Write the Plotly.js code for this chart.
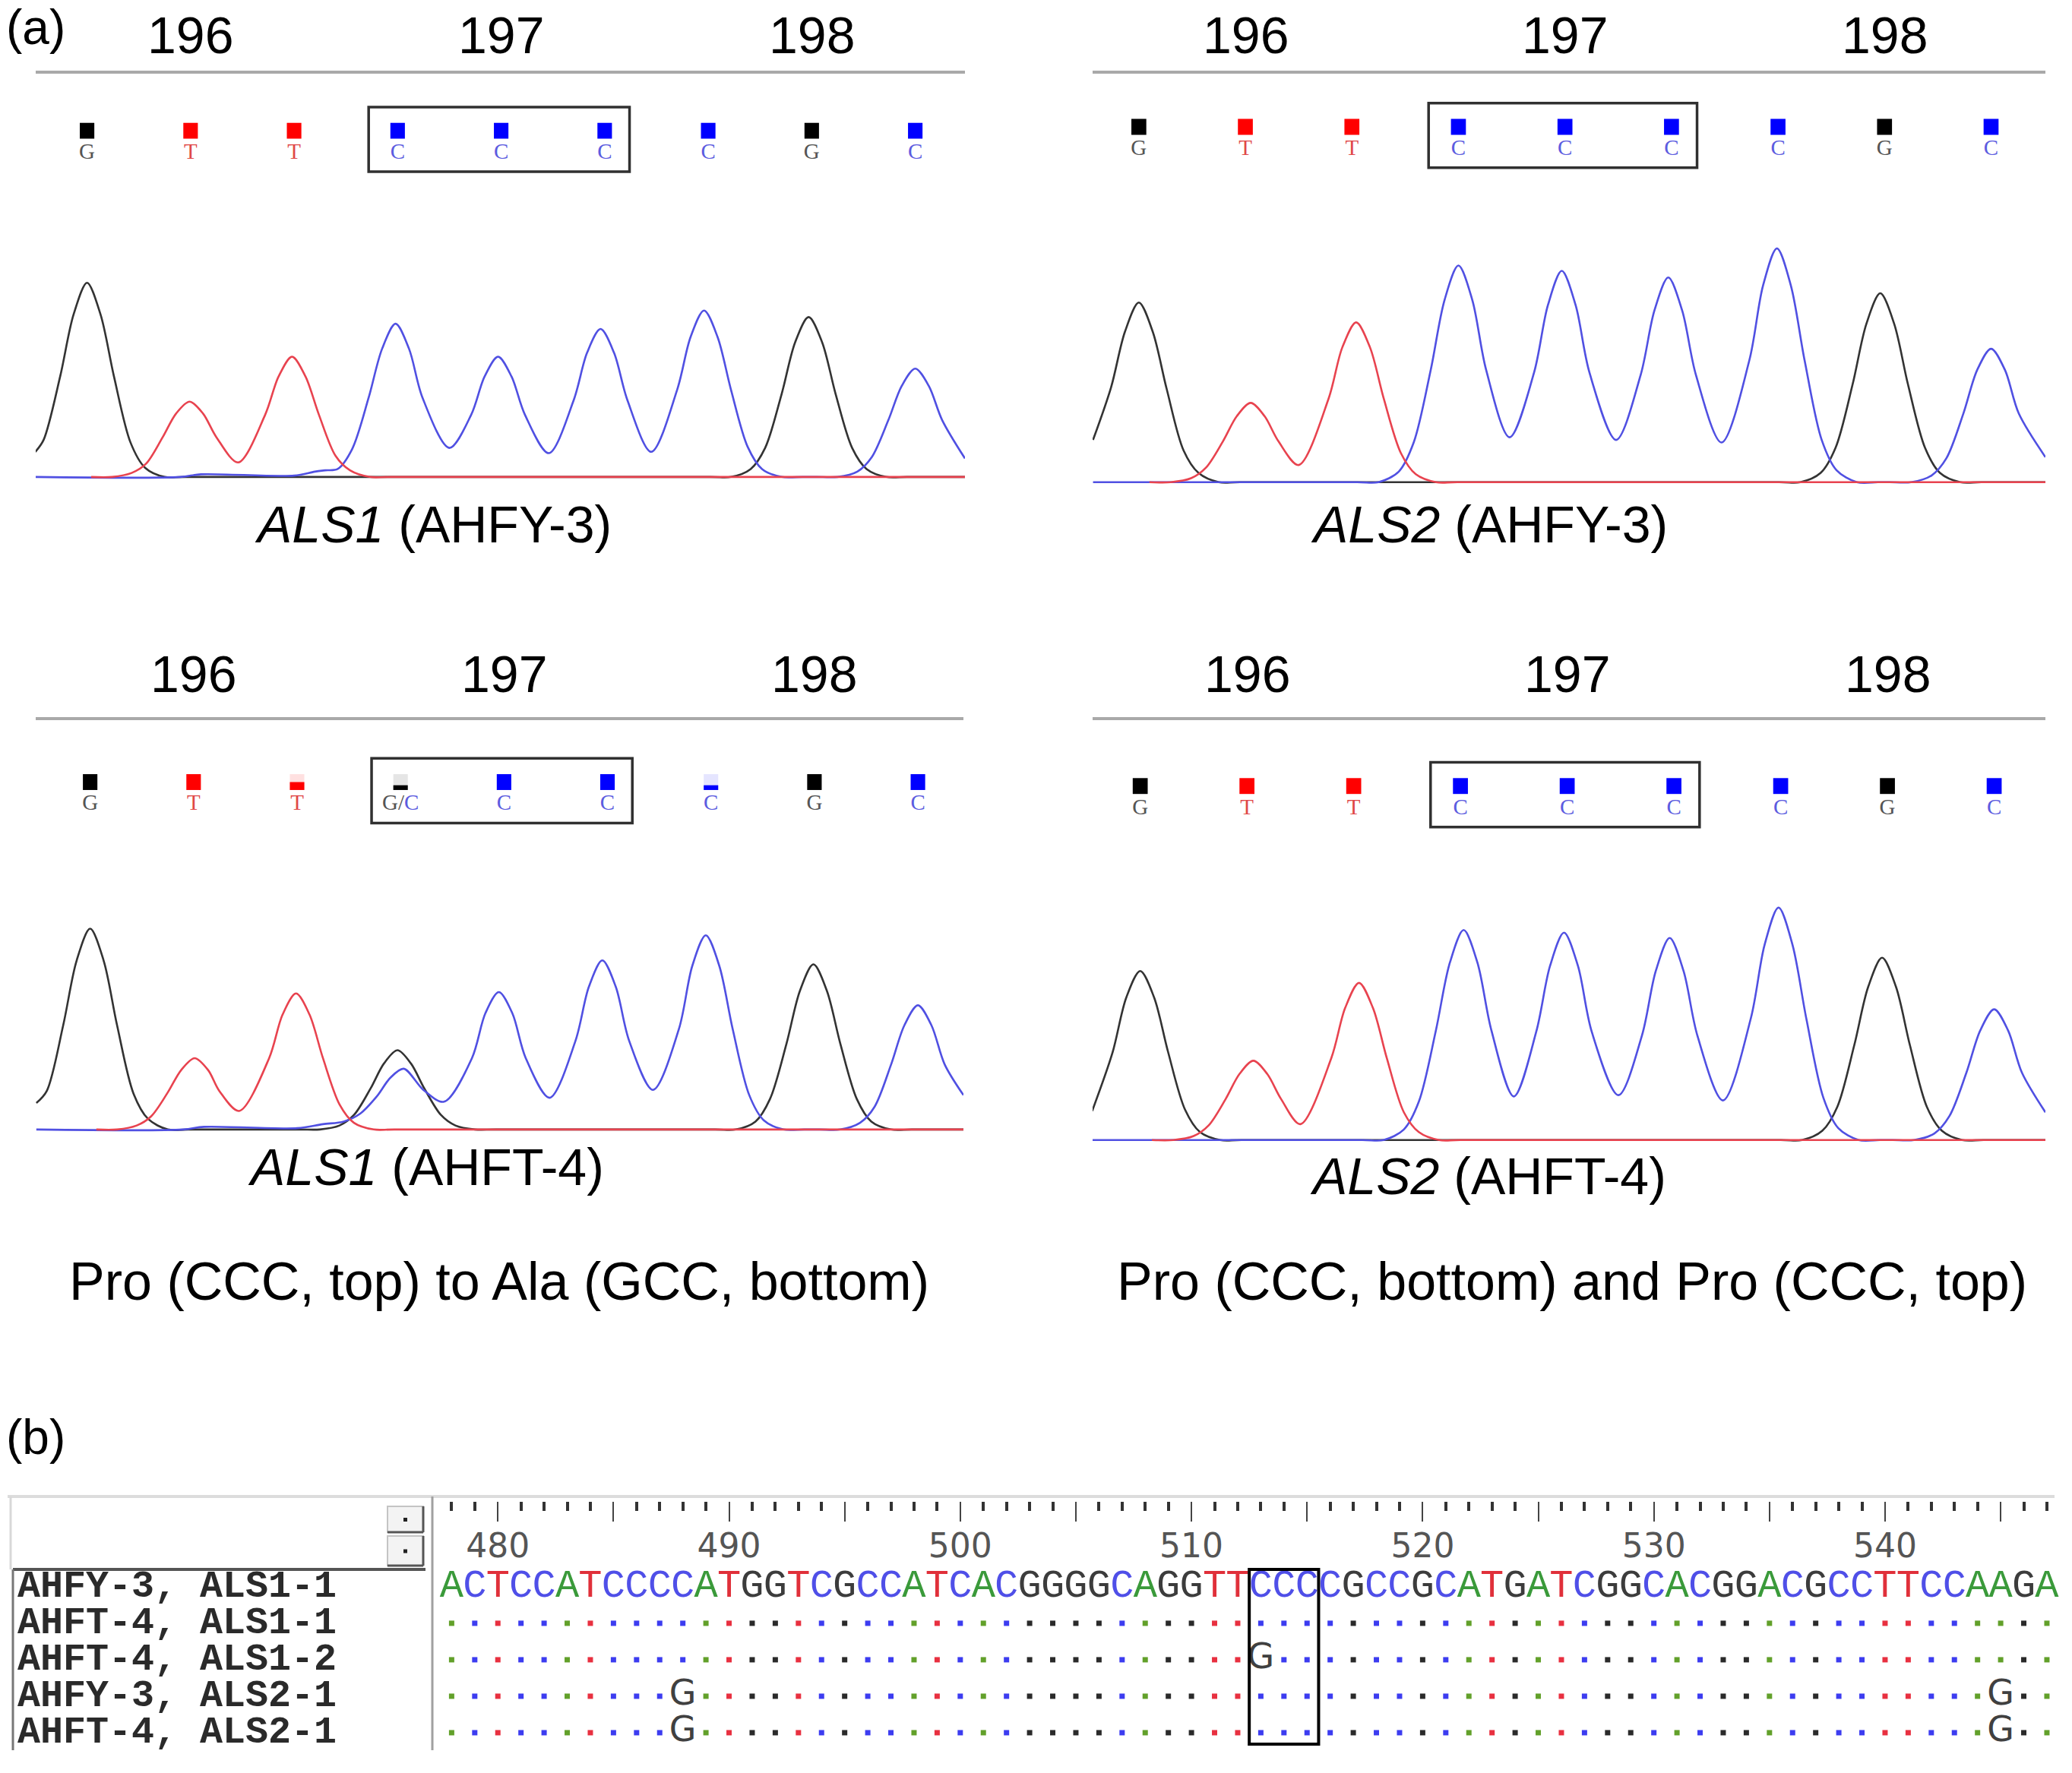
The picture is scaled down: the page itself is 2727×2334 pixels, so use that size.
<!DOCTYPE html>
<html>
<head>
<meta charset="utf-8">
<script src="https://cdn.plot.ly/plotly-3.0.1.min.js"></script>
<style>html,body{margin:0;padding:0;background:#fff;}#chart{width:2727px;height:2334px;}</style>
</head>
<body>
<div id="chart"></div>
<script>
// ---------------- DATA ----------------
// codon numbers over each chromatogram, centred on the codon's 3 bases (base index units)
const codonLabels = ['196', '197', '198'];
const codonCenters = [1, 4, 7];

// base calls and call quality (fraction of full bar)
const callsTL = ['G', 'T', 'T', 'C', 'C', 'C', 'C', 'G', 'C'];
const qualTL  = [1, 1, 1, 1, 1, 1, 1, 1, 1];
const callsTR = ['G', 'T', 'T', 'C', 'C', 'C', 'C', 'G', 'C'];
const qualTR  = [1, 1, 1, 1, 1, 1, 1, 1, 1];
const callsBL = ['G', 'T', 'T', 'G/C', 'C', 'C', 'C', 'G', 'C'];
const qualBL  = [1, 1, 0.5, 0.3, 1, 1, 0.3, 1, 1];
const callsBR = ['G', 'T', 'T', 'C', 'C', 'C', 'C', 'G', 'C'];
const qualBR  = [1, 1, 1, 1, 1, 1, 1, 1, 1];

// chromatogram traces: x in base-index units, y = signal height above baseline
// ALS1 (AHFY-3)
const tlGx = [-0.50, -0.42, -0.26, -0.13, 0.00, 0.13, 0.26, 0.42, 0.56, 0.75, 0.95, 6.02, 6.22, 6.41, 6.55, 6.71, 6.84, 6.97, 7.10, 7.23, 7.39, 7.53, 7.72, 7.92, 8.48];
const tlGy = [19, 28, 76, 123, 147, 123, 76, 26, 7, 0, 0, 0, 0, 6, 22, 63, 102, 121, 102, 63, 22, 6, 0, 0, 0];
const tlTx = [0.04, 0.24, 0.43, 0.57, 0.73, 0.86, 0.99, 1.12, 1.25, 1.46, 1.72, 1.85, 1.98, 2.11, 2.24, 2.40, 2.54, 2.73, 2.93, 8.48];
const tlTy = [0, 0, 3, 10, 30, 48, 57, 48, 30, 11, 47, 76, 91, 76, 47, 16, 5, 0, 0, 0];
const tlCx = [-0.50, 0.90, 1.10, 2.00, 2.20, 2.30, 2.42, 2.56, 2.72, 2.85, 2.98, 3.11, 3.24, 3.50, 3.71, 3.84, 3.97, 4.10, 4.23, 4.46, 4.70, 4.83, 4.96, 5.09, 5.22, 5.45, 5.70, 5.83, 5.96, 6.09, 6.22, 6.38, 6.52, 6.71, 6.91, 7.05, 7.25, 7.44, 7.58, 7.74, 7.87, 8.00, 8.13, 8.26, 8.48];
const tlCy = [0, 0, 2, 1, 4, 5, 6, 21, 60, 97, 116, 97, 60, 22, 47, 76, 91, 76, 47, 18, 58, 94, 112, 94, 58, 19, 66, 106, 126, 106, 66, 23, 6, 0, 0, 0, 0, 4, 15, 43, 69, 82, 69, 43, 14];

// ALS2 (AHFY-3)
const trGx = [-0.43, -0.26, -0.13, 0.00, 0.13, 0.26, 0.42, 0.56, 0.75, 0.95, 6.01, 6.21, 6.40, 6.54, 6.70, 6.83, 6.96, 7.09, 7.22, 7.38, 7.52, 7.71, 7.91, 8.51];
const trGy = [32, 72, 114, 136, 114, 71, 24, 7, 0, 0, 0, 0, 7, 26, 74, 120, 143, 120, 74, 26, 7, 0, 0, 0];
const trTx = [0.10, 0.30, 0.49, 0.63, 0.79, 0.92, 1.05, 1.18, 1.31, 1.50, 1.78, 1.91, 2.04, 2.17, 2.30, 2.46, 2.60, 2.79, 2.99, 8.51];
const trTy = [0, 0, 3, 11, 31, 50, 60, 50, 31, 13, 63, 102, 121, 102, 63, 22, 6, 0, 0, 0];
const trCx = [-0.43, 2.05, 2.25, 2.44, 2.58, 2.74, 2.87, 3.00, 3.13, 3.26, 3.48, 3.71, 3.84, 3.97, 4.10, 4.23, 4.48, 4.71, 4.84, 4.97, 5.10, 5.23, 5.47, 5.73, 5.86, 5.99, 6.12, 6.25, 6.41, 6.55, 6.74, 6.94, 7.05, 7.25, 7.44, 7.58, 7.74, 7.87, 8.00, 8.13, 8.26, 8.51];
const trCy = [0, 0, 0, 8, 30, 85, 138, 164, 138, 85, 34, 83, 134, 160, 134, 83, 32, 81, 130, 155, 130, 81, 30, 92, 149, 177, 149, 92, 32, 9, 0, 0, 0, 0, 5, 18, 52, 85, 101, 85, 52, 19];

// ALS1 (AHFT-4)
const blGx = [-0.52, -0.42, -0.26, -0.13, 0.00, 0.13, 0.26, 0.42, 0.56, 0.75, 0.95, 2.02, 2.22, 2.41, 2.55, 2.71, 2.84, 2.97, 3.10, 3.23, 3.39, 3.53, 3.72, 3.92, 6.04, 6.24, 6.43, 6.57, 6.73, 6.86, 6.99, 7.12, 7.25, 7.41, 7.55, 7.74, 7.94, 8.44];
const blGy = [20, 29, 79, 128, 152, 128, 79, 27, 8, 0, 0, 0, 0, 3, 11, 31, 50, 60, 50, 31, 11, 3, 0, 0, 0, 0, 6, 23, 65, 105, 125, 105, 65, 23, 6, 0, 0, 0];
const blTx = [0.06, 0.26, 0.45, 0.59, 0.75, 0.88, 1.01, 1.14, 1.25, 1.44, 1.73, 1.86, 1.99, 2.12, 2.25, 2.41, 2.55, 2.74, 2.94, 8.44];
const blTy = [0, 0, 3, 10, 28, 45, 54, 45, 29, 14, 54, 87, 103, 87, 54, 19, 5, 0, 0, 0];
const blCx = [-0.52, 0.90, 1.10, 2.00, 2.25, 2.45, 2.61, 2.77, 2.90, 3.03, 3.22, 3.42, 3.69, 3.82, 3.95, 4.08, 4.21, 4.44, 4.69, 4.82, 4.95, 5.08, 5.21, 5.44, 5.69, 5.82, 5.95, 6.08, 6.21, 6.37, 6.51, 6.70, 6.90, 7.05, 7.25, 7.44, 7.58, 7.74, 7.87, 8.00, 8.13, 8.26, 8.44];
const blCy = [0, 0, 2, 1, 4, 6, 12, 25, 39, 46, 30, 21, 54, 88, 104, 88, 54, 24, 67, 108, 128, 108, 67, 30, 76, 124, 147, 124, 76, 26, 7, 0, 0, 0, 0, 5, 17, 49, 79, 94, 79, 49, 26];

// ALS2 (AHFT-4)
const brGx = [-0.45, -0.26, -0.13, 0.00, 0.13, 0.26, 0.42, 0.56, 0.75, 0.95, 6.00, 6.20, 6.39, 6.53, 6.69, 6.82, 6.95, 7.08, 7.21, 7.37, 7.51, 7.70, 7.90, 8.48];
const brGy = [22, 66, 108, 128, 108, 67, 23, 6, 0, 0, 0, 0, 7, 25, 72, 116, 138, 116, 72, 25, 7, 0, 0, 0];
const brTx = [0.11, 0.31, 0.50, 0.64, 0.80, 0.93, 1.06, 1.19, 1.32, 1.50, 1.79, 1.92, 2.05, 2.18, 2.31, 2.47, 2.61, 2.80, 3.00, 8.48];
const brTy = [0, 0, 3, 11, 31, 50, 60, 50, 31, 12, 62, 100, 119, 100, 62, 21, 6, 0, 0, 0];
const brCx = [-0.45, 2.08, 2.28, 2.47, 2.61, 2.77, 2.90, 3.03, 3.16, 3.29, 3.50, 3.71, 3.84, 3.97, 4.10, 4.23, 4.48, 4.70, 4.83, 4.96, 5.09, 5.22, 5.46, 5.72, 5.85, 5.98, 6.11, 6.24, 6.40, 6.54, 6.73, 6.93, 7.05, 7.25, 7.44, 7.58, 7.74, 7.87, 8.00, 8.13, 8.26, 8.48];
const brCy = [0, 0, 0, 8, 29, 83, 134, 159, 134, 83, 33, 82, 132, 157, 132, 82, 34, 79, 128, 153, 128, 79, 30, 92, 148, 176, 148, 92, 32, 9, 0, 0, 0, 0, 5, 18, 51, 83, 99, 83, 51, 21];

const chromLabels = ['<i>ALS1</i> (AHFY-3)', '<i>ALS2</i> (AHFY-3)', '<i>ALS1</i> (AHFT-4)', '<i>ALS2</i> (AHFT-4)'];
const captions = ['Pro (CCC, top) to Ala (GCC, bottom)', 'Pro (CCC, bottom) and Pro (CCC, top)'];

// (b) alignment
const alnNames = ['AHFY-3, ALS1-1', 'AHFT-4, ALS1-1', 'AHFT-4, ALS1-2', 'AHFY-3, ALS2-1', 'AHFT-4, ALS2-1'];
const alnStart = 478;
const alnRef = 'ACTCCATCCCCATGGTCGCCATCACGGGGCAGGTTCCCCGCCGCATGATCGGCACGGACGCCTTCCAAGA';
const alnVarRow  = [2, 3, 3, 4, 4];
const alnVarPos  = [513, 488, 545, 488, 545];
const alnVarBase = ['G', 'G', 'G', 'G', 'G'];
const rulerLabels = [480, 490, 500, 510, 520, 530, 540];
const codonBoxStart = 513;   // CCC codon 197 in the alignment

// ---------------- STYLE / LAYOUT ----------------
const W = 2727, H = 2334;
const px = v => v / W;
const py = v => 1 - v / H;
const SANS = 'Liberation Sans, Arial, sans-serif';

const lineColor = {G: '#333333', T: '#e8434f', C: '#5050e2', A: '#2ca02c'};
const barColor = {G: '#000000', T: '#ff0000', C: '#0000ff'};
const faintColor = {G: 'rgba(0,0,0,0.10)', T: 'rgba(255,0,0,0.12)', C: 'rgba(0,0,255,0.10)'};
const callTextColor = {G: '#555555', T: '#e04848', C: '#5c5ce0'};
const alnColor = {A: '#3a9a3a', C: '#4f4fe8', G: '#3c3c3c', T: '#e0303a'};
const dotColor = {A: '#62a02a', C: '#3c3cf0', G: '#2a2a2a', T: '#e83040'};

const panels = [
  {Gx: tlGx, Gy: tlGy, Tx: tlTx, Ty: tlTy, Cx: tlCx, Cy: tlCy, calls: callsTL, qual: qualTL,
   x0: 47, x1: 1270, top: 97.4, bottom: 634.8, yr: [-4, 305], xr: [-0.496, 8.48], callY: 43, codonY: 51, lab: [570, 690]},
  {Gx: trGx, Gy: trGy, Tx: trTx, Ty: trTy, Cx: trCx, Cy: trCy, calls: callsTR, qual: qualTR,
   x0: 1438, x1: 2692, top: 97.4, bottom: 641.7, yr: [-4, 309], xr: [-0.434, 8.51], callY: 40, codonY: 51, lab: [1960, 690]},
  {Gx: blGx, Gy: blGy, Tx: blTx, Ty: blTy, Cx: blCx, Cy: blCy, calls: callsBL, qual: qualBL,
   x0: 47, x1: 1268, top: 947.8, bottom: 1493.8, yr: [-4, 310], xr: [-0.526, 8.44], callY: 47, codonY: 61, lab: [560, 1536]},
  {Gx: brGx, Gy: brGy, Tx: brTx, Ty: brTy, Cx: brCx, Cy: brCy, calls: callsBR, qual: qualBR,
   x0: 1438, x1: 2692, top: 947.8, bottom: 1507.7, yr: [-4, 318], xr: [-0.446, 8.48], callY: 50, codonY: 61, lab: [1958, 1548]}
];

const traces = [];
const shapes = [];
const annotations = [];
const layout = {
  width: W, height: H, margin: {l: 0, r: 0, t: 0, b: 0},
  paper_bgcolor: '#ffffff', plot_bgcolor: 'rgba(0,0,0,0)',
  showlegend: false, barmode: 'overlay', font: {family: SANS, color: '#000'}
};

function fmtCall(c) {
  if (c.indexOf('/') >= 0) {
    const parts = c.split('/');
    return '<span style="color:' + callTextColor[parts[0]] + '">' + parts[0] + '/</span>' +
           '<span style="color:' + callTextColor[parts[1]] + '">' + parts[1] + '</span>';
  }
  return c;
}

panels.forEach((p, i) => {
  const n = i === 0 ? '' : String(i + 1);
  const xa = 'x' + n, ya = 'y' + n;
  [['G', p.Gx, p.Gy], ['C', p.Cx, p.Cy], ['T', p.Tx, p.Ty]].forEach(([b, xs, ys]) => {
    traces.push({type: 'scatter', mode: 'lines', x: xs, y: ys, xaxis: xa, yaxis: ya,
      line: {color: lineColor[b], width: 2.6, shape: 'spline', smoothing: 0.9}, hoverinfo: 'skip'});
  });
  const top = p.yr[1];
  const idx = p.calls.map((_, k) => k);
  const base = top - p.callY - 6;
  traces.push({type: 'bar', x: idx, y: p.calls.map(() => 12), base: base, width: 0.14,
    marker: {color: p.calls.map(c => faintColor[c[0]]), line: {width: 0}}, xaxis: xa, yaxis: ya, hoverinfo: 'skip'});
  traces.push({type: 'bar', x: idx, y: p.qual.map(q => 12 * q), base: base, width: 0.14,
    marker: {color: p.calls.map(c => barColor[c[0]]), line: {width: 0}}, xaxis: xa, yaxis: ya, hoverinfo: 'skip'});
  traces.push({type: 'scatter', mode: 'text', x: idx, y: idx.map(() => top - p.callY - 17),
    text: p.calls.map(fmtCall), textposition: 'middle center',
    textfont: {family: 'Liberation Serif, serif', size: 29, color: p.calls.map(c => callTextColor[c[0]])},
    xaxis: xa, yaxis: ya, hoverinfo: 'skip', cliponaxis: false});

  layout['xaxis' + n] = {
    domain: [px(p.x0), px(p.x1)], range: p.xr, anchor: ya, side: 'top',
    showline: true, linecolor: '#a9a9a9', linewidth: 4, showgrid: false, zeroline: false,
    ticks: '', showticklabels: false, fixedrange: true
  };
  layout['yaxis' + n] = {
    domain: [py(p.bottom), py(p.top)], range: p.yr, anchor: xa, visible: false, fixedrange: true
  };
  // codon numbers above the gray line
  codonLabels.forEach((c, k) => {
    annotations.push({xref: xa, yref: 'paper', x: codonCenters[k], y: py(p.top - p.codonY),
      xanchor: 'center', yanchor: 'middle', text: c, showarrow: false,
      font: {family: SANS, size: 68, color: '#000'}});
  });
  // box around codon 197 (bases 3..5)
  shapes.push({type: 'rect', xref: xa, yref: ya,
    x0: codonCenters[1] - 1 - 0.28, x1: codonCenters[1] + 1 + 0.24,
    y0: top - (p.callY + 31), y1: top - (p.callY - 18),
    line: {color: '#303030', width: 3.5}, fillcolor: 'rgba(0,0,0,0)', layer: 'above'});
  annotations.push({xref: 'paper', yref: 'paper', x: px(p.lab[0]), y: py(p.lab[1]),
    xanchor: 'center', yanchor: 'middle', text: chromLabels[i], showarrow: false,
    font: {family: SANS, size: 68, color: '#000'}});
});

// captions and panel letters
annotations.push({xref: 'paper', yref: 'paper', x: px(657), y: py(1687), xanchor: 'center', yanchor: 'middle',
  text: captions[0], showarrow: false, font: {family: SANS, size: 70, color: '#000'}});
annotations.push({xref: 'paper', yref: 'paper', x: px(2069), y: py(1687), xanchor: 'center', yanchor: 'middle',
  text: captions[1], showarrow: false, font: {family: SANS, size: 70, color: '#000'}});
annotations.push({xref: 'paper', yref: 'paper', x: px(6), y: py(36), xanchor: 'left', yanchor: 'middle',
  text: '(a)', showarrow: false, font: {family: SANS, size: 64, color: '#000'}});
annotations.push({xref: 'paper', yref: 'paper', x: px(6), y: py(1892), xanchor: 'left', yanchor: 'middle',
  text: '(b)', showarrow: false, font: {family: SANS, size: 64, color: '#000'}});

// ---------------- (b) alignment ----------------
const refLetters = alnRef.split('');
const positions = refLetters.map((_, k) => alnStart + k);
const lastPos = positions[positions.length - 1];

traces.push({type: 'scatter', mode: 'text', x: positions, y: positions.map(() => 0), text: refLetters,
  textposition: 'middle center', xaxis: 'x5', yaxis: 'y5', hoverinfo: 'skip', cliponaxis: false,
  textfont: {family: 'Liberation Mono, monospace', size: 52, color: refLetters.map(b => alnColor[b])}});

const dx = [], dy = [], dc = [];
for (let r = 1; r < alnNames.length; r++) {
  positions.forEach((pos, k) => {
    const isVar = alnVarRow.some((vr, j) => vr === r && alnVarPos[j] === pos);
    if (!isVar) { dx.push(pos); dy.push(r); dc.push(dotColor[refLetters[k]]); }
  });
}
traces.push({type: 'scatter', mode: 'markers', x: dx, y: dy, xaxis: 'x5', yaxis: 'y5', hoverinfo: 'skip',
  marker: {symbol: 'square', size: 7, color: dc, line: {width: 0}}});
traces.push({type: 'scatter', mode: 'text', x: alnVarPos, y: alnVarRow, text: alnVarBase, xaxis: 'x5', yaxis: 'y5',
  textposition: 'middle center', hoverinfo: 'skip', cliponaxis: false,
  textfont: {family: 'DejaVu Sans, sans-serif', size: 46, color: '#404040'}});

const majorTicks = positions.filter(p => p % 5 === 0);
const minorTicks = positions.filter(p => p % 5 !== 0);
layout.xaxis5 = {
  domain: [px(574), px(2704)], range: [alnStart - 0.67, lastPos + 0.33], anchor: 'y5', side: 'top',
  showline: false, showgrid: false, zeroline: false, fixedrange: true,
  tickmode: 'array', tickvals: majorTicks,
  ticktext: majorTicks.map(p => rulerLabels.indexOf(p) >= 0 ? String(p) : ''),
  ticks: 'inside', ticklen: 26, tickwidth: 2, tickcolor: '#444',
  ticklabelposition: 'inside', ticklabelstandoff: 22,
  tickfont: {family: 'DejaVu Sans, sans-serif', size: 44, color: '#555'},
  minor: {tickmode: 'array', tickvals: minorTicks, ticks: 'inside', ticklen: 12, tickwidth: 4, tickcolor: '#333', showgrid: false}
};
layout.yaxis5 = {domain: [py(2304), py(1977)], range: [4.48, -2.33], anchor: 'x5', visible: false, fixedrange: true};

alnNames.forEach((nm, r) => {
  annotations.push({xref: 'paper', yref: 'y5', x: px(21), y: r, xanchor: 'left', yanchor: 'middle',
    text: '<b>' + nm + '</b>', showarrow: false, font: {family: 'Liberation Mono, monospace', size: 50, color: '#2a2a2a'}});
});

// alignment window chrome
const P = (x0, y0, x1, y1, color, width) => ({type: 'line', xref: 'paper', yref: 'paper',
  x0: px(x0), y0: py(y0), x1: px(x1), y1: py(y1), line: {color: color, width: width}});
shapes.push(P(10, 1970, 2704, 1970, '#dcdcdc', 4));
shapes.push(P(14, 1970, 14, 2066, '#d8d8d8', 3));
[[1983, 2017], [2022, 2061]].forEach(([a, b]) => {
  shapes.push({type: 'rect', xref: 'paper', yref: 'paper', x0: px(510), x1: px(557), y0: py(b), y1: py(a),
    fillcolor: '#f3f3f3', line: {color: '#c4c4c4', width: 2}});
  shapes.push(P(510, b, 557, b, '#555', 3));
  shapes.push(P(557, a, 557, b, '#555', 3));
  shapes.push({type: 'rect', xref: 'paper', yref: 'paper', x0: px(531), x1: px(536),
    y0: py((a + b) / 2 + 3), y1: py((a + b) / 2 - 2), fillcolor: '#222', line: {width: 0}});
});
shapes.push(P(17, 2066, 560, 2066, '#555', 4));
shapes.push(P(17, 2066, 17, 2304, '#777', 3));
shapes.push(P(569, 1970, 569, 2304, '#a0a0a0', 3));
shapes.push({type: 'rect', xref: 'x5', yref: 'paper', x0: codonBoxStart - 0.5, x1: codonBoxStart + 2.5,
  y0: py(2296), y1: py(2066), line: {color: '#000', width: 4}, fillcolor: 'rgba(0,0,0,0)', layer: 'above'});

layout.shapes = shapes;
layout.annotations = annotations;

Plotly.newPlot('chart', traces, layout, {staticPlot: true, displayModeBar: false});
</script>
</body>
</html>
